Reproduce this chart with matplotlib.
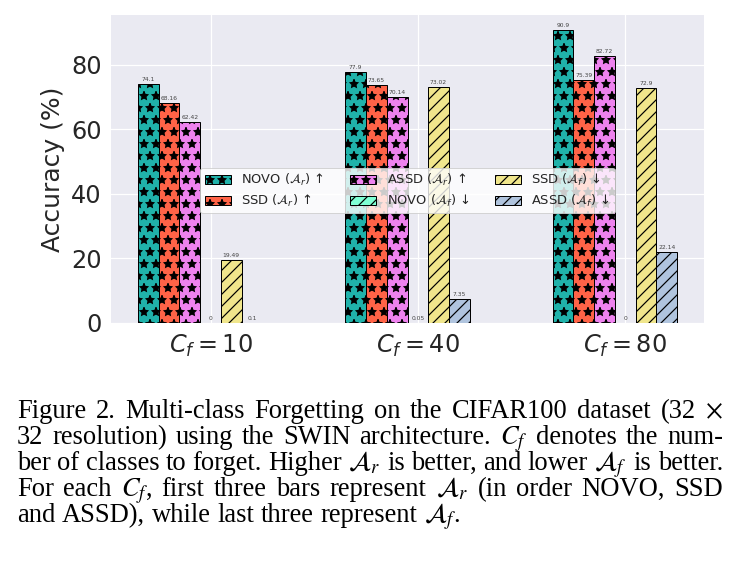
import matplotlib
matplotlib.use("Agg")
import matplotlib.pyplot as plt
import numpy as np

# ---------------- data ----------------
groups = [r"$C_f = 10$", r"$C_f = 40$", r"$C_f = 80$"]
series_labels = [
    r"NOVO ($\mathcal{A}_r$) ↑",
    r"SSD ($\mathcal{A}_r$) ↑",
    r"ASSD ($\mathcal{A}_r$) ↑",
    r"NOVO ($\mathcal{A}_f$) ↓",
    r"SSD ($\mathcal{A}_f$) ↓",
    r"ASSD ($\mathcal{A}_f$) ↓",
]
novo_ar = [74.1, 77.9, 90.9]
ssd_ar = [68.16, 73.65, 75.39]
assd_ar = [62.42, 70.14, 82.72]
novo_af = [0, 0.05, 0]
ssd_af = [19.49, 73.02, 72.9]
assd_af = [0.1, 7.35, 22.14]
yticks = [0, 20, 40, 60, 80]
ylabel = "Accuracy (%)"

caption_lines = [
    r"Figure 2.  Multi-class Forgetting on the CIFAR100 dataset (32 $\times$",
    r"32 resolution) using the SWIN architecture. $C_f$ denotes the num-",
    r"ber of classes to forget. Higher $\mathcal{A}_r$ is better, and lower $\mathcal{A}_f$ is better.",
    r"For each $C_f$, first three bars represent $\mathcal{A}_r$ (in order NOVO, SSD",
    r"and ASSD), while last three represent $\mathcal{A}_f$.",
]

series = [novo_ar, ssd_ar, assd_ar, novo_af, ssd_af, assd_af]
colors = ["#20B2AA", "#FF6347", "#EE82EE", "#7FFFD4", "#F0E68C", "#B0C4DE"]
hatches = ["*", "*", "*", "//", "//", "//"]

# ---------------- figure ----------------
DPI = 72
W, H = 737, 574
fig = plt.figure(figsize=(W / DPI, H / DPI), dpi=DPI)
plt.rcParams["hatch.linewidth"] = 1.2

ax = fig.add_axes([111 / W, 1 - 323 / H, (704 - 111) / W, (323 - 15) / H])
ax.set_facecolor("#EAEAF2")
for s in ax.spines.values():
    s.set_visible(False)
ax.set_axisbelow(True)
ax.grid(True, color="white", linewidth=1.2)

x = np.arange(len(groups))
width = 0.1
for i, (vals, lab, c, h) in enumerate(zip(series, series_labels, colors, hatches)):
    bars = ax.bar(x + (i - 3) * width, vals, width, label=lab, color=c,
                  hatch=h, edgecolor="black", linewidth=1.0)
    ax.bar_label(bars, labels=[f"{v:g}" for v in vals], fontsize=6,
                 color="#444444", padding=2)

ax.set_xticks(x)
ax.set_xticklabels(groups, fontsize=24)
ax.set_yticks(yticks)
ax.tick_params(axis="y", labelsize=24, length=0, pad=9, colors="#262626")
ax.tick_params(axis="x", length=0, pad=10, colors="#262626")
ax.set_ylabel(ylabel, fontsize=25, color="#262626", labelpad=6)

leg = ax.legend(ncol=3, loc="center", bbox_to_anchor=(0.5, 0.43),
                fontsize=13, frameon=True, facecolor="white", framealpha=0.8,
                edgecolor="#CCCCCC", handlelength=2.0, columnspacing=2.0,
                handletextpad=0.8, borderpad=0.35, labelspacing=0.35)
for t in leg.get_texts():
    t.set_color("#262626")

# ---------------- caption (justified) ----------------
left_px, right_px = 17, 723
baselines = [418, 444, 470, 496, 522]
renderer = fig.canvas.get_renderer()
cap_kw = dict(fontsize=26.5, family="Liberation Serif", math_fontfamily="stix",
              va="baseline", ha="left", color="black")

def text_width(s, yf):
    t = fig.text(0, yf, s, **cap_kw)
    w = t.get_window_extent(renderer=renderer).width
    t.remove()
    return w

for li, (line, yb) in enumerate(zip(caption_lines, baselines)):
    yf = 1 - yb / H
    words = [t for t in line.split(" ") if t != ""]
    texts = []
    widths = []
    for w in words:
        t = fig.text(0, yf, w, **cap_kw)
        widths.append(t.get_window_extent(renderer=renderer).width)
        texts.append(t)
    sw = text_width("a a", yf) - text_width("aa", yf)
    if li < len(caption_lines) - 1:
        gap = (right_px - left_px - sum(widths)) / (len(words) - 1)
    else:
        gap = sw
    xpos = left_px
    for t, wdt in zip(texts, widths):
        t.set_x(xpos / W)
        xpos += wdt + gap

fig.savefig("out.png", dpi=DPI)
